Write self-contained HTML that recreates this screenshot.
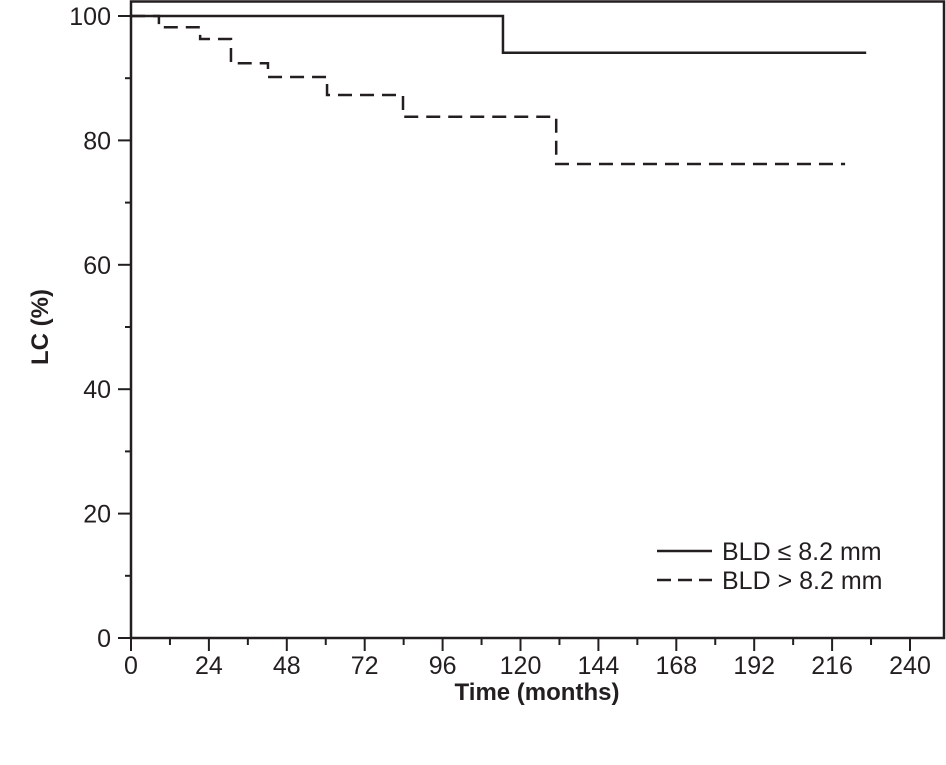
<!DOCTYPE html>
<html><head><meta charset="utf-8"><style>
body{margin:0;background:#fff}
svg text{font-family:"Liberation Sans Narrow","Liberation Sans",sans-serif;fill:#231f20}
</style></head><body>
<svg id="chart" width="946" height="760" viewBox="0 0 946 760" xmlns="http://www.w3.org/2000/svg"></svg>
<script>
const xTicks=[0,24,48,72,96,120,144,168,192,216,240];
const yTicks=[0,20,40,60,80,100];
const solidTimes=[0,114.6,226.5];
const solidVals=[100,94.1,94.1];
const dashTimes=[0,8.6,21.3,30.8,42.2,60.4,83.8,131,220];
const dashVals=[100,98.2,96.3,92.4,90.2,87.3,83.8,76.2,76.2];
const NS="http://www.w3.org/2000/svg";
const svg=document.getElementById('chart');
const X=t=>131+t*(910-131)/240;
const Y=v=>638-v*6.22;
function mk(tag,attrs,parent){const e=document.createElementNS(NS,tag);for(const k in attrs)e.setAttribute(k,attrs[k]);(parent||svg).appendChild(e);return e;}
const frame=mk('rect',{x:131,y:1.5,width:813,height:636.5,fill:'none',stroke:'#231f20','stroke-width':2.5});


xTicks.forEach((t,i)=>{
  const l=mk('line',{x1:X(t),x2:X(t),y1:638,y2:651,stroke:'#231f20','stroke-width':2});
  
  
  if(i<xTicks.length-1){const m=mk('line',{x1:X(t+12),x2:X(t+12),y1:638,y2:645,stroke:'#231f20','stroke-width':2});
  
  }
  const tx=mk('text',{x:X(t),y:674,'text-anchor':'middle','font-size':25});
  tx.textContent=t;
  
  
});
yTicks.forEach((v,i)=>{
  const l=mk('line',{x1:118,x2:131,y1:Y(v),y2:Y(v),stroke:'#231f20','stroke-width':2});
  
  
  if(i<yTicks.length-1){const m=mk('line',{x1:125,x2:131,y1:Y(v+10),y2:Y(v+10),stroke:'#231f20','stroke-width':2});
  
  }
  const tx=mk('text',{x:111,y:Y(v)+9,'text-anchor':'end','font-size':25});
  tx.textContent=v;
  
  
});
function stepPath(ts,vs){let d='M'+X(ts[0])+' '+Y(vs[0]);for(let i=1;i<ts.length;i++){d+=' H'+X(ts[i])+' V'+Y(vs[i]);}return d;}
const s=mk('path',{d:stepPath(solidTimes,solidVals),fill:'none',stroke:'#231f20','stroke-width':2.5});


const dsh=mk('path',{d:stepPath(dashTimes,dashVals),fill:'none',stroke:'#231f20','stroke-width':2.5,'stroke-dasharray':'14 8'});


const l1=mk('line',{x1:657,x2:712,y1:551,y2:551,stroke:'#231f20','stroke-width':2.5});


const t1=mk('text',{x:722,y:560,'font-size':25});t1.textContent='BLD ≤ 8.2 mm';


const l2=mk('line',{x1:657,x2:712,y1:580,y2:580,stroke:'#231f20','stroke-width':2.5,'stroke-dasharray':'14 7'});


const t2=mk('text',{x:722,y:589,'font-size':25});t2.textContent='BLD > 8.2 mm';


const xt=mk('text',{x:537,y:700,'text-anchor':'middle','font-size':24,'font-weight':'bold'});xt.textContent='Time (months)';


const yt=mk('text',{x:0,y:0,'text-anchor':'middle','font-size':24,'font-weight':'bold',transform:'translate(48,327) rotate(-90)'});yt.textContent='LC (%)';


</script>
</body></html>
